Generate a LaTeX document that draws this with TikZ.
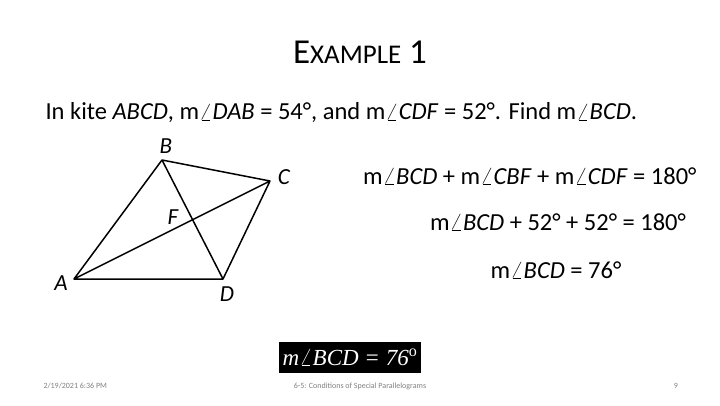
\documentclass[tikz,border=0pt]{standalone}
\usepackage{fontspec}
\setmainfont{Carlito}
\newfontfamily\timesf{Liberation Serif}
\usetikzlibrary{calc}
\begin{document}
\begin{tikzpicture}[x=1pt,y=-1pt,
  lbl/.style={font=\fontsize{23}{23}\selectfont\itshape},
  txt/.style={font=\fontsize{24.5}{28}\selectfont,anchor=west},
  foot/.style={font=\fontsize{8}{9}\selectfont,text=gray}]
\useasboundingbox (0,0) rectangle (720,405);
\node[font=\fontsize{35}{36}\selectfont] (title) at (360,52) {E{\fontsize{27}{28}\selectfont XAMPLE} 1};
\node[txt] (q) at (42,113) {In kite \textit{ABCD}, m$\angle$\textit{DAB} = 54°, and m$\angle$\textit{CDF} = 52°. Find m$\angle$\textit{BCD}.};
\coordinate (A) at (74,279);
\coordinate (B) at (162,160);
\coordinate (C) at (270,181);
\coordinate (D) at (223,279);
\draw[line width=1.5pt,line join=round] (A)--(B)--(C)--(D)--cycle (A)--(C) (B)--(D);
\node[lbl] (lA) at (61,283) {A};
\node[lbl] (lB) at (166,146) {B};
\node[lbl] (lC) at (284,177) {C};
\node[lbl] (lD) at (227,294) {D};
\node[lbl] (lF) at (173,217) {F};
\node[txt,anchor=east] (e1) at (700,176) {m$\angle$\textit{BCD} + m$\angle$\textit{CBF} + m$\angle$\textit{CDF} = 180°};
\node[txt,anchor=center] (e2) at (558,222) {m$\angle$\textit{BCD} + 52° + 52° = 180°};
\node[txt,anchor=center] (e3) at (556,270) {m$\angle$\textit{BCD} = 76°};
\node[fill=black,text=white,minimum width=142pt,minimum height=31pt,inner sep=0pt,font=\timesf\fontsize{23}{23}\selectfont\itshape] (ans) at (350,357) {m$\angle$BCD = 76\textsuperscript{\upshape o}};
\node[foot,anchor=west] (f1) at (40,386) {2/19/2021 6:36 PM};
\node[foot] (f2) at (360,386) {6-5: Conditions of Special Parallelograms};
\node[foot] (f3) at (676,386) {9};
\end{tikzpicture}
\end{document}
